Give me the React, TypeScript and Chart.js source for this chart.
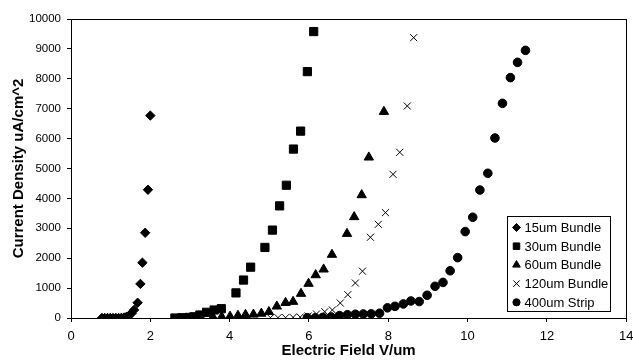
import React, { useEffect, useRef } from "react";
import { Chart, registerables } from "chart.js";
import { drawPoint } from "chart.js/helpers";

Chart.register(...registerables);

// ---- Data ----
const x15 = [0.78, 0.85, 0.92, 0.99, 1.06, 1.13, 1.2, 1.27, 1.34, 1.4, 1.46, 1.53, 1.59, 1.68, 1.75, 1.8, 1.87, 1.94, 2.0];
const y15 = [0, 0, 0, 0, 0, 0, 0, 5, 15, 40, 80, 160, 270, 510, 1140, 1850, 2850, 4290, 6770];

const x30 = [2.62, 2.8, 2.98, 3.1, 3.25, 3.42, 3.61, 3.79, 4.16, 4.35, 4.53, 4.89, 5.08, 5.26, 5.43, 5.61, 5.79, 5.96, 6.12];
const y30 = [0, 10, 20, 40, 100, 190, 268, 311, 840, 1270, 1700, 2360, 2940, 3750, 4440, 5650, 6250, 8240, 9580];

const x60 = [3.58, 3.8, 4.01, 4.21, 4.4, 4.6, 4.8, 4.99, 5.19, 5.41, 5.6, 5.8, 5.99, 6.17, 6.37, 6.58, 6.96, 7.14, 7.33, 7.51, 7.89];
const y60 = [30, 40, 50, 80, 110, 120, 150, 205, 390, 510, 546, 815, 1150, 1438, 1628, 2120, 2820, 3380, 4114, 5374, 6900];

const x120 = [5.03, 5.22, 5.41, 5.6, 5.78, 5.98, 6.19, 6.4, 6.59, 6.79, 6.98, 7.17, 7.35, 7.55, 7.75, 7.93, 8.12, 8.29, 8.48, 8.64];
const y120 = [10, 10, 10, 20, 30, 67, 134, 211, 268, 500, 780, 1170, 1565, 2700, 3134, 3523, 4805, 5541, 7090, 9376];

const x400 = [5.96, 6.16, 6.35, 6.56, 6.77, 6.97, 7.17, 7.37, 7.57, 7.78, 7.98, 8.17, 8.38, 8.57, 8.78, 8.98, 9.18, 9.38, 9.56, 9.75, 9.94, 10.13, 10.31, 10.51, 10.69, 10.88, 11.08, 11.26, 11.46];
const y400 = [10, 10, 20, 35, 80, 110, 125, 134, 140, 160, 340, 390, 470, 570, 550, 760, 1060, 1190, 1580, 2020, 2890, 3370, 4280, 4840, 6020, 7180, 8040, 8550, 8950];

const seriesLabels = ["15um Bundle", "30um Bundle", "60um Bundle", "120um Bundle", "400um Strip"];
const xTitle = "Electric Field V/um";
const yTitle = "Current Density uA/cm^2";

const toPts = (xs: number[], ys: number[]) => xs.map((x, i) => ({ x, y: ys[i] }));

const FONT = "'Liberation Sans', Arial, sans-serif";

const framePlugin = {
  id: "frame",
  afterDraw(chart: any) {
    const { ctx, chartArea } = chart;
    ctx.save();
    ctx.strokeStyle = "#000";
    ctx.lineWidth = 1;
    ctx.strokeRect(
      Math.round(chartArea.left) + 0.5,
      Math.round(chartArea.top) + 0.5,
      Math.round(chartArea.right - chartArea.left),
      Math.round(chartArea.bottom - chartArea.top)
    );
    ctx.restore();
  },
};

const legendPlugin = {
  id: "boxLegend",
  afterDraw(chart: any) {
    const { ctx, chartArea } = chart;
    const w = 103;
    const h = 95;
    const bx = Math.round(chartArea.right - 16 - w) + 0.5;
    const by = Math.round(chartArea.bottom - 7 - h) + 0.5;
    ctx.save();
    ctx.fillStyle = "#fff";
    ctx.fillRect(bx, by, w, h);
    ctx.strokeStyle = "#000";
    ctx.lineWidth = 1;
    ctx.strokeRect(bx, by, w, h);
    ctx.font = `13px ${FONT}`;
    ctx.textBaseline = "middle";
    ctx.textAlign = "left";
    chart.data.datasets.forEach((ds: any, i: number) => {
      const cy = by + 11 + i * 18.7;
      ctx.fillStyle = "#000";
      ctx.strokeStyle = "#000";
      drawPoint(
        ctx,
        {
          pointStyle: ds.pointStyle,
          radius: ds.legendRadius,
          rotation: 0,
          borderWidth: 1,
        } as any,
        bx + 9,
        cy
      );
      ctx.fillStyle = "#000";
      ctx.fillText(ds.label, bx + 17, cy + 1);
    });
    ctx.restore();
  },
};

export default function App() {
  const ref = useRef<HTMLCanvasElement>(null);

  useEffect(() => {
    document.body.style.margin = "0";
    const canvas = ref.current!;
    const common = {
      showLine: false,
      borderColor: "#000",
      backgroundColor: "#000",
      pointBorderColor: "#000",
      pointBackgroundColor: "#000",
      pointBorderWidth: 1,
    };
    const chart = new Chart(canvas, {
      type: "scatter",
      data: {
        datasets: [
          { ...common, label: seriesLabels[0], data: toPts(x15, y15), pointStyle: "rectRot", pointRadius: 4.7, legendRadius: 4 } as any,
          { ...common, label: seriesLabels[1], data: toPts(x30, y30), pointStyle: "rect", pointRadius: 5.8, legendRadius: 4.6 } as any,
          { ...common, label: seriesLabels[2], data: toPts(x60, y60), pointStyle: "triangle", pointRadius: 5.4, legendRadius: 4.4 } as any,
          { ...common, label: seriesLabels[3], data: toPts(x120, y120), pointStyle: "crossRot", pointRadius: 5, legendRadius: 4.5 } as any,
          { ...common, label: seriesLabels[4], data: toPts(x400, y400), pointStyle: "circle", pointRadius: 4.3, legendRadius: 3.6 } as any,
        ],
      },
      options: {
        responsive: false,
        animation: false,
        events: [],
        layout: { padding: { left: 0, top: 19, right: 6, bottom: 0 } },
        plugins: {
          legend: { display: false },
          tooltip: { enabled: false },
        },
        scales: {
          x: {
            type: "linear",
            min: 0,
            max: 14,
            afterFit: (s: any) => {
              s.height = 42;
              s.paddingLeft = 0;
              s.paddingRight = 0;
            },
            ticks: {
              stepSize: 2,
              color: "#000",
              padding: 7,
              font: { family: FONT, size: 13 },
              maxRotation: 0,
            },
            grid: {
              display: true,
              drawOnChartArea: false,
              drawTicks: true,
              tickLength: 4,
              color: "#000",
            },
            border: { display: true, color: "#000", width: 1 },
            title: {
              display: true,
              text: xTitle,
              color: "#000",
              font: { family: FONT, size: 15, weight: "bold", lineHeight: 1.2 },
              padding: { top: 0, bottom: 0 },
            },
          },
          y: {
            type: "linear",
            min: 0,
            max: 10000,
            afterFit: (s: any) => {
              s.width = 71;
              s.paddingTop = 0;
              s.paddingBottom = 0;
            },
            ticks: {
              stepSize: 1000,
              color: "#000",
              padding: 6,
              font: { family: FONT, size: 11.5 },
              callback: (v: any) => String(v),
            },
            grid: {
              display: true,
              drawOnChartArea: false,
              drawTicks: true,
              tickLength: 4,
              color: "#000",
            },
            border: { display: true, color: "#000", width: 1 },
            title: {
              display: true,
              text: yTitle,
              color: "#000",
              font: { family: FONT, size: 15, weight: "bold", lineHeight: 1.2 },
              padding: { top: 10, bottom: 0 },
            },
          },
        },
      } as any,
      plugins: [framePlugin, legendPlugin],
    });
    return () => chart.destroy();
  }, []);

  return (
    <div style={{ position: "absolute", left: 0, top: 0, width: 633, height: 360, background: "#fff" }}>
      <canvas ref={ref} width={633} height={360} style={{ display: "block" }} />
    </div>
  );
}
